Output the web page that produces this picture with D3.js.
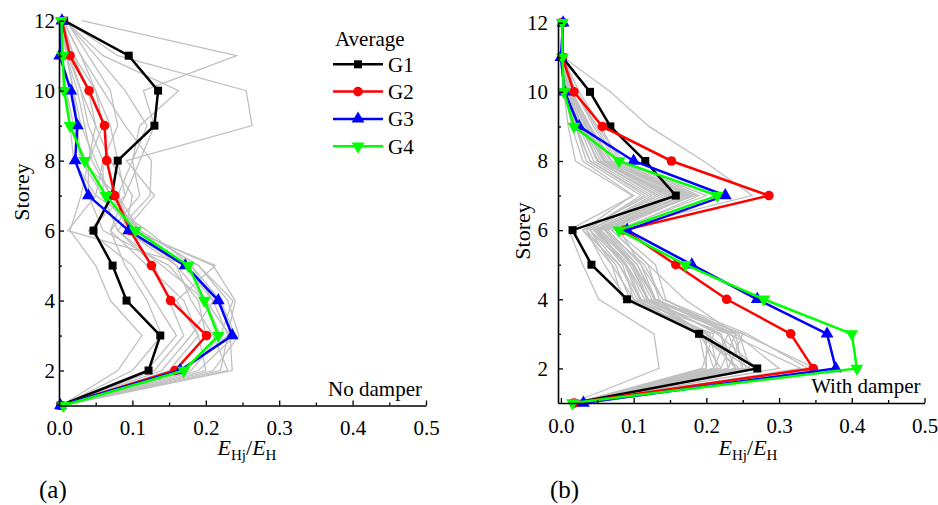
<!DOCTYPE html>
<html>
<head>
<meta charset="utf-8">
<script src="https://cdn.jsdelivr.net/npm/d3@7"></script>
<style>
    body { margin: 0; background: #fff; }
    svg text { font-family: "Liberation Serif", "Times New Roman", Tinos, "DejaVu Serif", serif; fill: #000; }
</style>
</head>
<body>
<div id="chart"></div>
<script>
// storey levels and ticks
var storeys = [1, 2, 3, 4, 5, 6, 7, 8, 9, 10, 11, 12];
var xTicks = [0, 0.1, 0.2, 0.3, 0.4, 0.5];
var xMinorTicks = [0.05, 0.15, 0.25, 0.35, 0.45];
var yTicks = [2, 4, 6, 8, 10, 12];
var yMinorTicks = [3, 5, 7, 9, 11];

var groupNames = ["G1", "G2", "G3", "G4"];
var groupColors = ["#000000", "#ff0000", "#0000ff", "#00ff00"];

// (a) no damper, averages, storey 1..12
var noDamperG1 = [0.002, 0.122, 0.138, 0.092, 0.073, 0.047, 0.072, 0.080, 0.130, 0.135, 0.095, 0.007];
var noDamperG2 = [0.003, 0.158, 0.201, 0.152, 0.126, 0.097, 0.076, 0.065, 0.062, 0.041, 0.015, 0.004];
var noDamperG3 = [0.002, 0.165, 0.236, 0.217, 0.172, 0.095, 0.040, 0.022, 0.025, 0.016, 0.001, 0.004];
var noDamperG4 = [0.006, 0.170, 0.217, 0.198, 0.176, 0.104, 0.064, 0.035, 0.015, 0.007, 0.005, 0.003];

// (a) individual records (grey)
var noDamperRecords = [
    [0.004, 0.15, 0.19, 0.17, 0.12, 0.07, 0.09, 0.11, 0.13, 0.115, 0.242, 0.031],
    [0.006, 0.18, 0.22, 0.20, 0.16, 0.09, 0.13, 0.092, 0.263, 0.255, 0.08, 0.01],
    [0.004, 0.21, 0.245, 0.23, 0.19, 0.11, 0.08, 0.10, 0.11, 0.163, 0.06, 0.008],
    [0.003, 0.08, 0.113, 0.07, 0.05, 0.015, 0.03, 0.04, 0.06, 0.05, 0.02, 0.005],
    [0.005, 0.17, 0.23, 0.24, 0.21, 0.10, 0.06, 0.03, 0.02, 0.01, 0.005, 0.002],
    [0.004, 0.19, 0.24, 0.22, 0.18, 0.12, 0.05, 0.02, 0.015, 0.01, 0.004, 0.002],
    [0.006, 0.13, 0.17, 0.15, 0.13, 0.08, 0.124, 0.126, 0.09, 0.06, 0.03, 0.005],
    [0.004, 0.16, 0.20, 0.19, 0.15, 0.06, 0.04, 0.04, 0.05, 0.04, 0.02, 0.004],
    [0.003, 0.23, 0.21, 0.18, 0.16, 0.108, 0.07, 0.05, 0.03, 0.02, 0.01, 0.003],
    [0.005, 0.14, 0.18, 0.21, 0.17, 0.09, 0.10, 0.07, 0.05, 0.03, 0.012, 0.004],
    [0.004, 0.236, 0.233, 0.20, 0.14, 0.08, 0.06, 0.06, 0.04, 0.03, 0.015, 0.003],
    [0.003, 0.12, 0.16, 0.13, 0.10, 0.04, 0.09, 0.08, 0.07, 0.05, 0.03, 0.006],
    [0.005, 0.20, 0.19, 0.16, 0.213, 0.10, 0.08, 0.03, 0.025, 0.02, 0.01, 0.003],
    [0.004, 0.22, 0.23, 0.21, 0.18, 0.012, 0.05, 0.06, 0.08, 0.07, 0.04, 0.01],
    [0.004, 0.17, 0.22, 0.237, 0.19, 0.11, 0.07, 0.045, 0.035, 0.025, 0.01, 0.003],
    [0.003, 0.10, 0.14, 0.12, 0.09, 0.07, 0.11, 0.10, 0.12, 0.09, 0.05, 0.008]
];

// (b) with damper, averages
var damperG1 = [0.018, 0.270, 0.190, 0.091, 0.042, 0.016, 0.158, 0.116, 0.068, 0.040, 0.002, 0.002];
var damperG2 = [0.018, 0.347, 0.316, 0.228, 0.158, 0.087, 0.286, 0.152, 0.057, 0.018, 0.002, 0.002];
var damperG3 = [0.031, 0.378, 0.366, 0.270, 0.180, 0.091, 0.226, 0.100, 0.025, 0.005, 0.000, 0.003];
var damperG4 = [0.016, 0.407, 0.400, 0.279, 0.171, 0.080, 0.215, 0.080, 0.018, 0.004, 0.002, 0.002];

// (b) individual records (grey)
var damperRecords = [
    [0.02, 0.30, 0.24, 0.17, 0.12, 0.07, 0.263, 0.196, 0.121, 0.068, 0.003, 0.002],
    [0.015, 0.135, 0.128, 0.052, 0.03, 0.011, 0.10, 0.03, 0.015, 0.005, 0.002, 0.001],
    [0.02, 0.20, 0.19, 0.10, 0.07, 0.04, 0.13, 0.05, 0.03, 0.01, 0.002, 0.001],
    [0.02, 0.25, 0.23, 0.13, 0.10, 0.06, 0.17, 0.07, 0.04, 0.015, 0.002, 0.001],
    [0.018, 0.34, 0.256, 0.14, 0.11, 0.08, 0.19, 0.085, 0.05, 0.02, 0.003, 0.002],
    [0.02, 0.267, 0.20, 0.12, 0.09, 0.05, 0.15, 0.06, 0.03, 0.01, 0.002, 0.001],
    [0.02, 0.22, 0.24, 0.11, 0.08, 0.03, 0.12, 0.04, 0.02, 0.008, 0.002, 0.001],
    [0.02, 0.194, 0.21, 0.09, 0.06, 0.035, 0.11, 0.035, 0.02, 0.006, 0.002, 0.001],
    [0.02, 0.26, 0.185, 0.135, 0.12, 0.07, 0.18, 0.075, 0.045, 0.02, 0.002, 0.001],
    [0.02, 0.23, 0.25, 0.12, 0.10, 0.055, 0.16, 0.065, 0.035, 0.012, 0.002, 0.001],
    [0.02, 0.21, 0.195, 0.10, 0.085, 0.045, 0.14, 0.055, 0.03, 0.01, 0.002, 0.001],
    [0.02, 0.33, 0.23, 0.144, 0.13, 0.075, 0.20, 0.08, 0.055, 0.025, 0.003, 0.002],
    [0.02, 0.24, 0.22, 0.115, 0.09, 0.04, 0.125, 0.045, 0.025, 0.01, 0.002, 0.001],
    [0.02, 0.20, 0.20, 0.085, 0.07, 0.03, 0.098, 0.02, 0.01, 0.004, 0.002, 0.001],
    [0.02, 0.25, 0.24, 0.13, 0.11, 0.065, 0.175, 0.07, 0.04, 0.015, 0.002, 0.001],
    [0.02, 0.27, 0.215, 0.125, 0.10, 0.05, 0.155, 0.06, 0.035, 0.012, 0.002, 0.001],
    [0.02, 0.22, 0.19, 0.105, 0.08, 0.04, 0.135, 0.05, 0.028, 0.01, 0.002, 0.001],
    [0.02, 0.26, 0.245, 0.14, 0.115, 0.06, 0.165, 0.07, 0.04, 0.015, 0.002, 0.001],
    [0.02, 0.21, 0.23, 0.095, 0.075, 0.035, 0.115, 0.04, 0.022, 0.008, 0.002, 0.001],
    [0.02, 0.24, 0.20, 0.11, 0.09, 0.05, 0.145, 0.058, 0.033, 0.012, 0.002, 0.001],
    [0.02, 0.35, 0.25, 0.13, 0.105, 0.055, 0.185, 0.078, 0.048, 0.02, 0.002, 0.001],
    [0.02, 0.23, 0.22, 0.12, 0.095, 0.045, 0.16, 0.05, 0.03, 0.01, 0.002, 0.001],
    [0.02, 0.255, 0.235, 0.128, 0.105, 0.062, 0.18, 0.068, 0.038, 0.014, 0.002, 0.001],
    [0.02, 0.215, 0.205, 0.108, 0.088, 0.048, 0.15, 0.052, 0.026, 0.009, 0.002, 0.001],
    [0.02, 0.245, 0.19, 0.118, 0.098, 0.052, 0.17, 0.062, 0.036, 0.013, 0.002, 0.001]
];

var width = 938, height = 505;
var serif = "'Liberation Serif', 'Times New Roman', Tinos, 'DejaVu Serif', serif";
var fontSize = 21;

var svg = d3.select("#chart").append("svg")
    .attr("width", width)
    .attr("height", height)
    .attr("font-family", serif);

var symbols = [
    d3.symbol().type(d3.symbolSquare).size(64),
    d3.symbol().type(d3.symbolCircle).size(72),
    d3.symbol().type(d3.symbolTriangle).size(72),
    d3.symbol().type(d3.symbolTriangle).size(72)
];
// G4 is a downward triangle
var symbolRotate = [0, 0, 0, 180];

function drawPanel(cfg) {
    var g = svg.append("g");

    var x = d3.scaleLinear().domain(cfg.xDomain).range([cfg.left, cfg.right]);
    var y = d3.scaleLinear().domain([1, 12]).range([cfg.bottom, cfg.top]);

    var line = d3.line()
        .x(function(d) { return x(d.v); })
        .y(function(d) { return y(d.s); });

    function toPoints(arr) {
        return arr.map(function(v, i) { return {s: storeys[i], v: v}; });
    }

    // grey records
    g.selectAll(".rec")
        .data(cfg.records)
        .enter()
        .append("path")
        .attr("class", "rec")
        .attr("fill", "none")
        .attr("stroke", "#c0c0c0")
        .attr("stroke-width", 1.3)
        .attr("d", function(d) { return line(toPoints(d)); });

    // averages
    cfg.groups.forEach(function(arr, i) {
        var pts = toPoints(arr);
        g.append("path")
            .attr("fill", "none")
            .attr("stroke", groupColors[i])
            .attr("stroke-width", 2.5)
            .attr("stroke-linejoin", "miter")
            .attr("d", line(pts));
        g.selectAll(".m" + i)
            .data(pts)
            .enter()
            .append("path")
            .attr("class", "m" + i)
            .attr("fill", groupColors[i])
            .attr("transform", function(d) {
                return "translate(" + x(d.v) + "," + y(d.s) + ") rotate(" + symbolRotate[i] + ")";
            })
            .attr("d", symbols[i]);
    });

    // x axis
    g.append("g")
        .attr("transform", "translate(0," + cfg.bottom + ")")
        .call(d3.axisBottom(x).tickValues(xMinorTicks).tickSize(-3).tickSizeOuter(0).tickFormat(""))
        .call(function(a) { a.select(".domain").remove(); })
        .selectAll("line").attr("stroke-width", 1.3);
    var xa = g.append("g")
        .attr("transform", "translate(0," + cfg.bottom + ")")
        .call(d3.axisBottom(x).tickValues(xTicks).tickSize(-5).tickSizeOuter(0)
            .tickPadding(15).tickFormat(d3.format(".1f")));
    xa.attr("font-family", serif).attr("font-size", fontSize);
    xa.select(".domain").attr("stroke-width", 1.6);
    xa.selectAll("line").attr("stroke-width", 1.3);

    // y axis
    g.append("g")
        .attr("transform", "translate(" + cfg.left + ",0)")
        .call(d3.axisLeft(y).tickValues(yMinorTicks).tickSize(-3).tickSizeOuter(0).tickFormat(""))
        .call(function(a) { a.select(".domain").remove(); })
        .selectAll("line").attr("stroke-width", 1.3);
    var ya = g.append("g")
        .attr("transform", "translate(" + cfg.left + ",0)")
        .call(d3.axisLeft(y).tickValues(yTicks).tickSize(-5).tickSizeOuter(0)
            .tickPadding(cfg.yPad).tickFormat(d3.format("d")));
    ya.attr("font-family", serif).attr("font-size", fontSize);
    ya.select(".domain").attr("stroke-width", 1.6);
    ya.selectAll("line").attr("stroke-width", 1.3);

    // y title
    g.append("text")
        .attr("transform", "translate(" + cfg.yTitleX + "," + cfg.yTitleY + ") rotate(-90)")
        .attr("text-anchor", "middle")
        .attr("font-size", 22)
        .text("Storey");

    // x title E_Hj / E_H
    var t = g.append("text")
        .attr("x", cfg.xTitleX)
        .attr("y", 455)
        .attr("text-anchor", "middle")
        .attr("font-size", 22);
    t.append("tspan").attr("font-style", "italic").text("E");
    t.append("tspan").attr("font-size", 15).attr("dy", 5).text("Hj");
    t.append("tspan").attr("dy", -5).text("/");
    t.append("tspan").attr("font-style", "italic").text("E");
    t.append("tspan").attr("font-size", 15).attr("dy", 5).text("H");

    // case note
    g.append("text")
        .attr("x", cfg.right - 4)
        .attr("y", cfg.bottom - 10)
        .attr("text-anchor", "end")
        .attr("font-size", fontSize)
        .text(cfg.note);

    // panel letter
    g.append("text")
        .attr("x", cfg.letterX)
        .attr("y", 498)
        .attr("font-size", 25)
        .text(cfg.letter);

    return g;
}

var gA = drawPanel({
    left: 59, right: 426, top: 20.7, bottom: 405.5,
    xDomain: [0, 0.5], yPad: 4,
    records: noDamperRecords,
    groups: [noDamperG1, noDamperG2, noDamperG3, noDamperG4],
    yTitleX: 29, yTitleY: 192, xTitleX: 247,
    note: "No damper", letter: "(a)", letterX: 39
});

drawPanel({
    left: 558, right: 924.5, top: 22.7, bottom: 403,
    xDomain: [-0.004, 0.5], yPad: 10,
    records: damperRecords,
    groups: [damperG1, damperG2, damperG3, damperG4],
    yTitleX: 530, yTitleY: 231, xTitleX: 748,
    note: "With damper", letter: "(b)", letterX: 550
});

// legend in (a)
var legend = gA.append("g")
    .attr("transform", "translate(" + 333 + "," + 0 + ")");

legend.append("text")
    .attr("x", 2)
    .attr("y", 46)
    .attr("font-size", fontSize)
    .text("Average");

var legendRows = legend.selectAll(".row")
    .data(groupNames)
    .enter()
    .append("g")
    .attr("class", "row")
    .attr("transform", function(d, i) { return "translate(0," + (64.3 + 27.3 * i) + ")"; });

legendRows.append("line")
    .attr("x1", 0).attr("x2", 50)
    .attr("stroke", function(d, i) { return groupColors[i]; })
    .attr("stroke-width", 2.5);

legendRows.append("path")
    .attr("transform", function(d, i) { return "translate(25,0) rotate(" + symbolRotate[i] + ")"; })
    .attr("fill", function(d, i) { return groupColors[i]; })
    .attr("d", function(d, i) { return symbols[i](); });

legendRows.append("text")
    .attr("x", 55)
    .attr("dy", "0.35em")
    .attr("font-size", fontSize)
    .text(function(d) { return d; });
</script>
</body>
</html>
